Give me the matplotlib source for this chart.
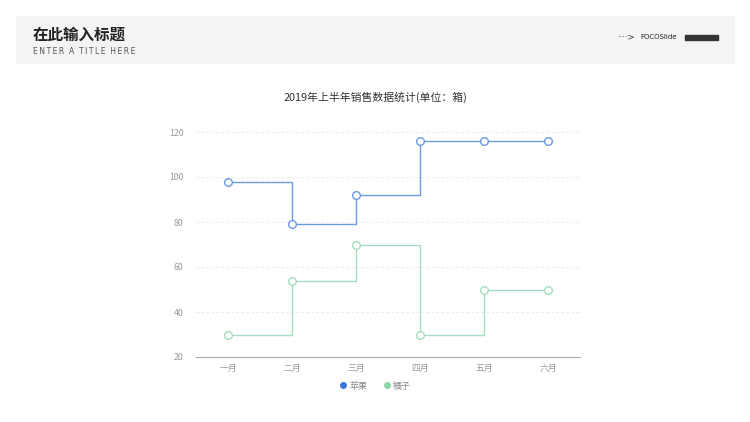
import matplotlib
matplotlib.use("Agg")
import matplotlib.pyplot as plt
from matplotlib.patches import Rectangle
from matplotlib.lines import Line2D

plt.rcParams["font.family"] = ["Noto Sans CJK SC", "DejaVu Sans"]

# ---------------------------------------------------
# Data
# ---------------------------------------------------
months = ["一月", "二月", "三月", "四月", "五月", "六月"]
apple = [98, 79, 92, 116, 116, 116]
orange = [30, 54, 70, 30, 50, 50]
series_names = ["苹果", "橘子"]
y_ticks = [20, 40, 60, 80, 100, 120]

blue_line = "#6b9ae0"
blue_dot = "#3a78e0"
green_line = "#a6dcbf"
green_dot = "#8ad4a6"

W, H = 750, 422
fig = plt.figure(figsize=(W / 100, H / 100), dpi=100)

# ---------------------------------------------------
# Header band
# ---------------------------------------------------
fig.patches.append(Rectangle((16 / W, 1 - 63 / H), 718 / W, 47 / H,
                             transform=fig.transFigure, color="#f4f4f6", zorder=0))
fig.text(33 / W, 1 - 35 / H, "在此输入标题", fontsize=11.2, fontweight="heavy",
         color="#222222", va="center", ha="left")
subtitle = "  ".join("\u2009".join(w) for w in "ENTER A TITLE HERE".split())
fig.text(33 / W, 1 - 52 / H, subtitle, fontsize=5.5,
         color="#555555", va="center", ha="left", family="DejaVu Sans")
fig.text(617 / W, 1 - 37 / H, "····>", fontsize=6, color="#333333",
         va="center", ha="left", family="DejaVu Sans")
fig.text(640 / W, 1 - 37 / H, "FOCOSlide", fontsize=5, color="#222222",
         va="center", ha="left", family="DejaVu Sans")
fig.patches.append(Rectangle((685 / W, 1 - 40 / H), 33 / W, 5 / H,
                             transform=fig.transFigure, color="#333333", zorder=1))

# ---------------------------------------------------
# Chart title
# ---------------------------------------------------
fig.text(375 / W, 1 - 97 / H, "2019年上半年销售数据统计(单位：箱)", fontsize=7.8,
         color="#333333", ha="center", va="center")

# ---------------------------------------------------
# Step chart
# ---------------------------------------------------
ax = fig.add_axes([196 / W, 1 - 357 / H, 384 / W, 225 / H])
x = list(range(len(months)))

for vals, lc, name in [(apple, blue_line, series_names[0]),
                       (orange, green_line, series_names[1])]:
    ax.step(x, vals, where="post", color=lc, linewidth=1.0, zorder=2)
    ax.plot(x, vals, linestyle="none", marker="o", markersize=5.5,
            markerfacecolor="white", markeredgecolor=lc, markeredgewidth=1.0, zorder=3)

ax.set_xlim(-0.5, len(months) - 0.5)
ax.set_ylim(20, 120)
ax.set_yticks(y_ticks)
ax.set_xticks(x)
ax.set_xticklabels(months)
ax.tick_params(axis="both", length=0, labelsize=6.3, labelcolor="#999999")
ax.tick_params(axis="y", pad=9)
ax.tick_params(axis="x", pad=5)
ax.grid(axis="y", linestyle=(0, (3, 3)), color="#e6e6e6", linewidth=0.6)
ax.set_axisbelow(True)
for side in ["top", "right", "left"]:
    ax.spines[side].set_visible(False)
ax.spines["bottom"].set_color("#aaaaaa")
ax.spines["bottom"].set_linewidth(0.8)

handles = [Line2D([], [], linestyle="none", marker="o", markersize=4,
                  color=blue_dot),
           Line2D([], [], linestyle="none", marker="o", markersize=4,
                  color=green_dot)]
leg = fig.legend(handles, series_names, loc="center", ncol=2, frameon=False,
                 bbox_to_anchor=(375 / W, 1 - 386 / H), fontsize=6.5,
                 handletextpad=0.2, columnspacing=1.6, handlelength=1.0)
for t in leg.get_texts():
    t.set_color("#888888")

fig.savefig("out.png", dpi=100)
